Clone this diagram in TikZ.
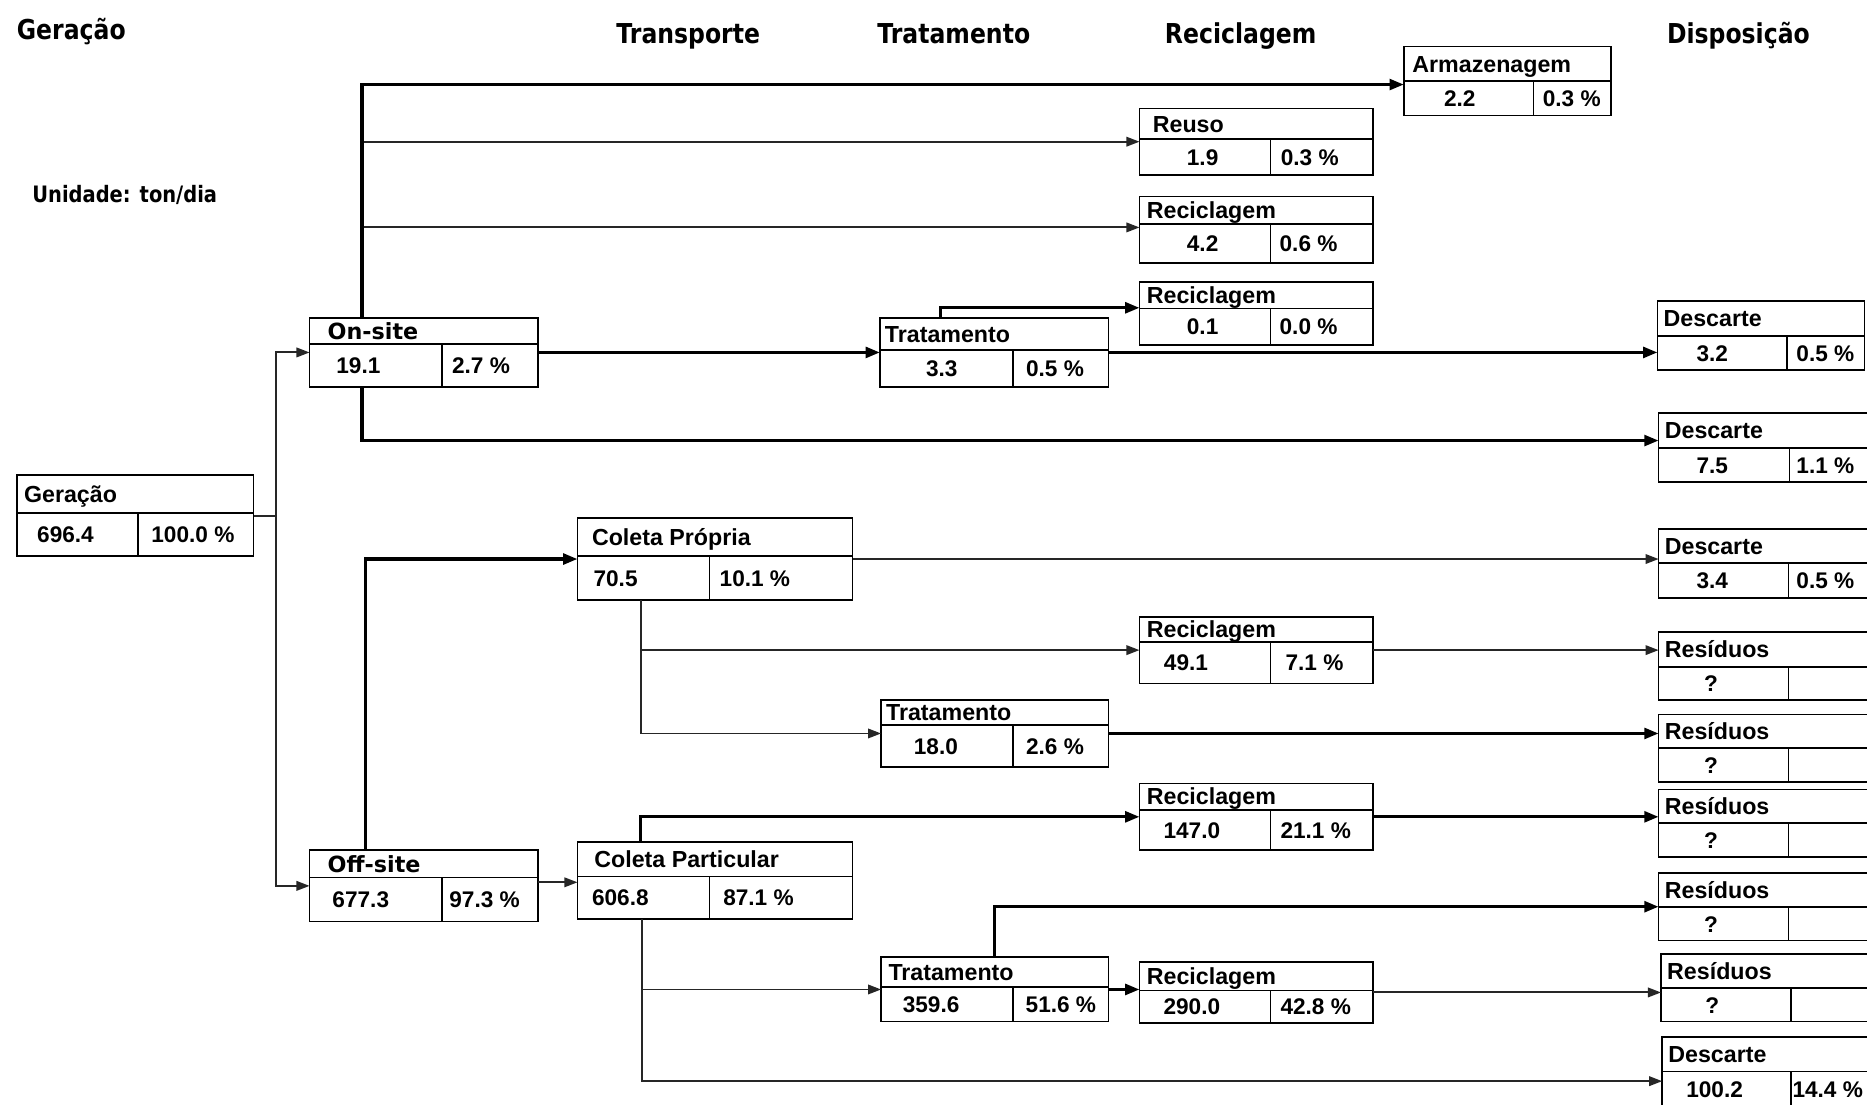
\documentclass[tikz,border=0pt]{standalone}
\usepackage{fontspec}
\setmainfont{Liberation Sans}
\newfontfamily\titlefont{DejaVu Sans}[FakeStretch=0.86]
\newfontfamily\sitefont{DejaVu Sans}
\usetikzlibrary{arrows.meta}
\tikzset{
  boxframe/.style={draw=black, line width=1.4pt, inner sep=0pt, outer sep=0pt, anchor=north west},
  divline/.style={draw=black, line width=1.4pt},
  hdr/.style={font=\fontsize{19.5}{20}\selectfont\bfseries, inner sep=0pt, anchor=west, text height=14pt, text depth=0pt},
  val/.style={font=\fontsize{19}{20}\selectfont\bfseries, inner sep=0pt, text height=13.6pt, text depth=0pt},
  toptitle/.style={font=\titlefont\fontsize{23}{24}\selectfont\bfseries, inner sep=0pt, text height=16.8pt, text depth=0pt},
  unitlabel/.style={font=\titlefont\fontsize{19}{22}\selectfont\bfseries, inner sep=0pt, text height=13.9pt, text depth=0pt},
  thinline/.style={draw=black!85, line width=1.6pt},
  thickline/.style={draw=black, line width=2.7pt},
  thinflow/.style={thinline, -{Triangle[length=11pt,width=8pt]}},
  thickflow/.style={thickline, -{Triangle[length=12pt,width=9pt]}},
}
% name, L, T, R, M (divider y), B, D (divider x), header offset, header
\newcommand\flowbox[9]{%
  \node[boxframe, minimum width={(#4-#2)*1pt}, minimum height={(#6-#3)*1pt}] (#1) at (#2,#3) {};
  \draw[divline] (#2,#5) -- (#4,#5) (#7,#5) -- (#7,#6);
  \node[hdr] (#1-h) at ({#2+#8},{(#3+#5)/2}) {#9};
  \pgfmathsetmacro\vrow{(#5+#6)/2}\xdef\lastvy{\vrow}%
}
\newcommand\vals[5]{%
  \node[val] (#1-a) at (#2,\lastvy) {#3};
  \node[val] (#1-b) at (#4,\lastvy) {#5};
}
\newcommand\oneval[3]{%
  \node[val] (#1-a) at (#2,\lastvy) {#3};
}
\begin{document}
\begin{tikzpicture}[x=1pt,y=-1pt]
\useasboundingbox (0,0) rectangle (1568,928);
\fill[white] (0,0) rectangle (1568,928);
\clip (0,0) rectangle (1568,928);

% column titles
\node[toptitle, anchor=west] (tgen) at (14,24.5) {Geração};
\node[toptitle] (ttrans) at (578,28) {Transporte};
\node[toptitle] (ttrat) at (801,28) {Tratamento};
\node[toptitle] (trec) at (1042,28) {Reciclagem};
\node[toptitle] (tdisp) at (1460,28) {Disposição};
\node[unitlabel, anchor=west] (unit) at (27,163) {Unidade: ton/dia};

% boxes
\flowbox{gen}{14}{399}{213}{431}{467}{116}{6}{Geração}
\vals{gen}{55}{696.4}{162}{100.0 \%}

\flowbox{ons}{260}{267}{452}{289}{325}{371}{15}{\sitefont\fontsize{18.7}{20}\selectfont On-site}
\vals{ons}{301}{19.1}{404}{2.7 \%}
\flowbox{offs}{260}{714}{452}{737}{774}{371}{15}{\sitefont\fontsize{18.7}{20}\selectfont Off-site}
\vals{offs}{303}{677.3}{407}{97.3 \%}

\flowbox{cp}{485}{435}{716}{467}{504}{596}{12}{Coleta Própria}
\vals{cp}{517}{70.5}{634}{10.1 \%}
\flowbox{cpa}{485}{707}{716}{736}{772}{596}{14}{Coleta Particular}
\vals{cpa}{521}{606.8}{637}{87.1 \%}

\flowbox{t1}{739}{267}{931}{294}{325}{851}{4}{Tratamento}
\vals{t1}{791}{3.3}{886}{0.5 \%}
\flowbox{t2}{740}{588}{931}{609}{644}{851}{4}{Tratamento}
\vals{t2}{786}{18.0}{886}{2.6 \%}
\flowbox{t3}{740}{804}{931}{829}{858}{851}{6}{Tratamento}
\vals{t3}{782}{359.6}{891}{51.6 \%}

\flowbox{reu}{957}{91}{1153}{117}{147}{1067}{11}{Reuso}
\vals{reu}{1010}{1.9}{1100}{0.3 \%}
\flowbox{r1}{957}{165}{1153}{188}{221}{1067}{6}{Reciclagem}
\vals{r1}{1010}{4.2}{1099}{0.6 \%}
\flowbox{r2}{957}{237}{1153}{259}{290}{1067}{6}{Reciclagem}
\vals{r2}{1010}{0.1}{1099}{0.0 \%}
\flowbox{r3}{957}{518}{1153}{539}{574}{1067}{6}{Reciclagem}
\vals{r3}{996}{49.1}{1104}{7.1 \%}
\flowbox{r4}{957}{658}{1153}{680}{714}{1067}{6}{Reciclagem}
\vals{r4}{1001}{147.0}{1105}{21.1 \%}
\flowbox{r5}{957}{808}{1153}{832}{859}{1067}{6}{Reciclagem}
\vals{r5}{1001}{290.0}{1105}{42.8 \%}

\flowbox{arm}{1179}{39}{1353}{68}{97}{1288}{7}{Armazenagem}
\vals{arm}{1226}{2.2}{1320}{0.3 \%}

\flowbox{d1}{1392}{253}{1566}{282}{311}{1501}{5}{Descarte}
\vals{d1}{1438}{3.2}{1533}{0.5 \%}
\flowbox{d2}{1393}{347}{1580}{376}{405}{1503}{5}{Descarte}
\vals{d2}{1438}{7.5}{1533}{1.1 \%}
\flowbox{d3}{1393}{444}{1580}{473}{502}{1502}{5}{Descarte}
\vals{d3}{1438}{3.4}{1533}{0.5 \%}
\flowbox{s1}{1393}{531}{1580}{560}{588}{1502}{5}{Resíduos}
\oneval{s1}{1437}{?}
\flowbox{s2}{1393}{600}{1580}{628}{657}{1502}{5}{Resíduos}
\oneval{s2}{1437}{?}
\flowbox{s3}{1393}{663}{1580}{691}{720}{1502}{5}{Resíduos}
\oneval{s3}{1437}{?}
\flowbox{s4}{1393}{733}{1580}{762}{790}{1502}{5}{Resíduos}
\oneval{s4}{1437}{?}
\flowbox{s5}{1395}{801}{1580}{830}{858}{1504}{5}{Resíduos}
\oneval{s5}{1438}{?}
\flowbox{d4}{1396}{871}{1580}{900}{930}{1504}{5}{Descarte}
\vals{d4}{1440}{100.2}{1535}{14.4 \%}

% connectors
\coordinate (gsplit) at ([xshift=19pt]gen.east);
\draw[thinline] (gen.east) -- (gsplit);
\draw[thinflow] (gsplit) |- (ons.west);
\draw[thinflow] (gsplit) |- (offs.west);

\coordinate (onsup) at ([xshift=44pt]ons.north west);
\draw[thinflow] (onsup) |- (reu.west);
\draw[thinflow] (onsup) |- ([yshift=2pt]r1.west);
\draw[thickflow] (onsup) |- ([yshift=-3pt]arm.west);

\draw[thickflow] (ons.east) -- (t1.west);
\coordinate (t1up) at ([xshift=51pt]t1.north west);
\draw[thickflow] (t1up) |- ([yshift=5pt]r2.west);
\draw[thickflow] (t1.east) -- (t1.east -| d1.west);

\coordinate (onsdown) at ([xshift=44pt]ons.south west);
\draw[thickflow] (onsdown) |- ([yshift=6pt]d2.west);

\coordinate (offsup) at ([xshift=47pt]offs.north west);
\draw[thickflow] (offsup) |- (cp.west);
\draw[thinflow] ([yshift=3pt]offs.east) -- ([yshift=3pt]offs.east -| cpa.west);

\draw[thinflow] (cp.east) -- (cp.east -| d3.west);
\coordinate (cpdown) at ([xshift=53pt]cp.south west);
\draw[thinflow] (cpdown) |- (r3.west);
\draw[thinflow] (cpdown) |- (t2.west);
\draw[thinflow] (r3.east) -- (r3.east -| s1.west);
\draw[thickflow] (t2.east) -- (t2.east -| s2.west);

\coordinate (cpaup) at ([xshift=53pt]cpa.north west);
\draw[thickflow] (cpaup) |- (r4.west);
\draw[thickflow] (r4.east) -- (r4.east -| s3.west);

\coordinate (cpadown) at ([xshift=54pt]cpa.south west);
\draw[thinflow] (cpadown) |- (t3.west);
\draw[thinflow] (cpadown) |- ([yshift=-7.5pt]d4.west);

\coordinate (t3up) at ([xshift=95pt]t3.north west);
\draw[thickflow] (t3up) |- (s4.west);
\draw[thickflow] (t3.east) -- (t3.east -| r5.west);
\draw[thinflow] (r5.east) -- (r5.east -| s5.west);
\end{tikzpicture}
\end{document}
